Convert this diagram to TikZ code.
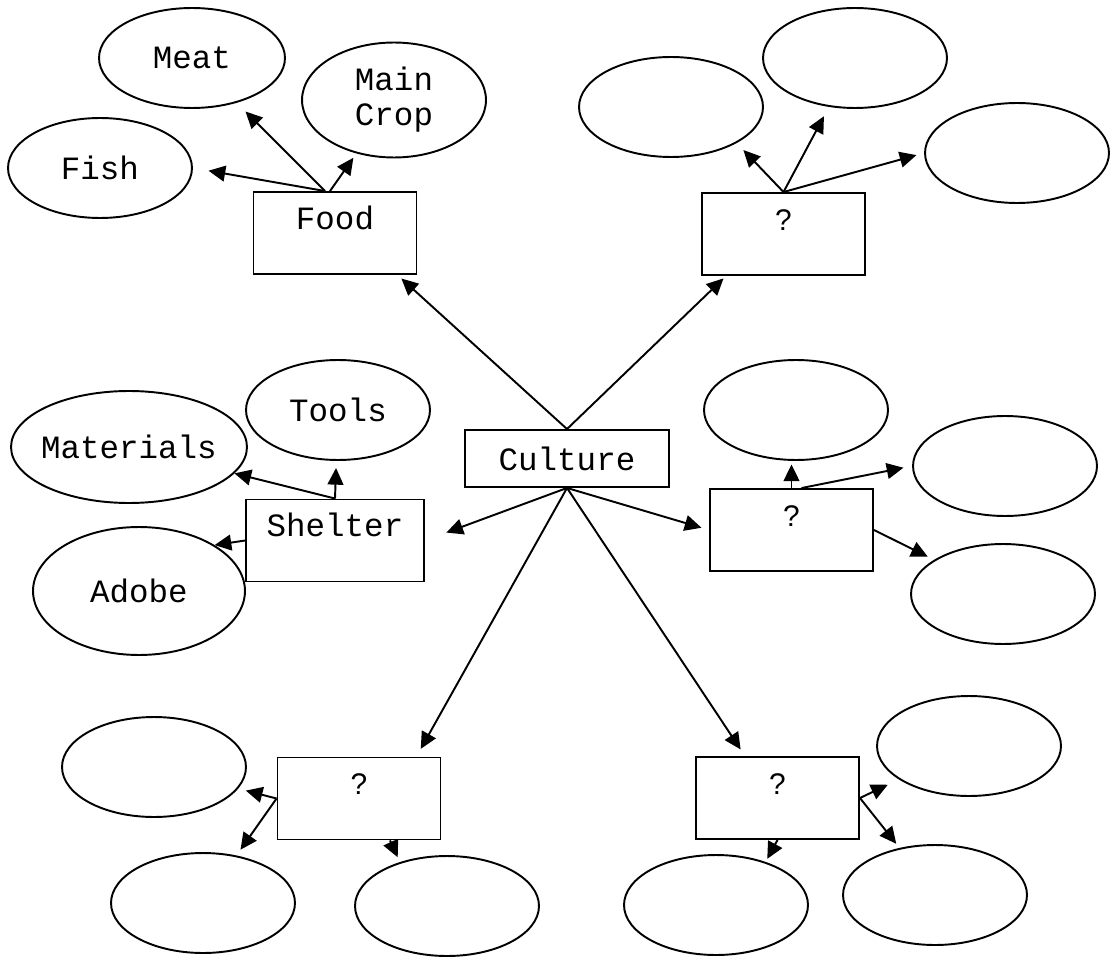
\documentclass[tikz,border=0pt]{standalone}
\usepackage{fontspec}
\setmonofont{Liberation Mono}
\newfontfamily\qmarkfont{Liberation Sans}
\usetikzlibrary{arrows.meta,shapes.geometric}

\newcommand{\qbox}{{\qmarkfont\fontsize{17}{18}\selectfont ?}}

\begin{document}
\begin{tikzpicture}
[x=0.02cm,y=-0.02cm,>={Triangle[length=9.5pt,width=9pt]},line width=1.1pt,
 font=\ttfamily\fontsize{18.5}{20}\selectfont,
 oval/.style={draw,ellipse,inner sep=0pt,minimum width=3.68cm,minimum height=2cm},
 topic/.style={draw,rectangle,inner sep=0pt,minimum width=3.26cm,
   text height=0.74cm,text depth=0.9cm},
 link/.style={->,shorten >=#1},link/.default=4pt]

	\useasboundingbox (0,0) rectangle (1111,959);

	% centre
	\node[draw,inner sep=0pt,minimum width=4.08cm,minimum height=1.14cm] (culture)
	at (567,458.5) {Culture};

	% food
	\node[topic] (food) at (335,233) {Food};
	\node[oval,minimum width=3.72cm] (meat) at (192,58) {Meat};
	\node[oval,minimum height=2.3cm,align=center] (crop) at (394,100) {Main\\Crop};
	\node[oval] (fish) at (100,168) {Fish};

	% top right
	\node[topic] (askA) at (783.5,234) {\qbox};
	\node[oval] (a1) at (671,107) {};
	\node[oval] (a2) at (855,58) {};
	\node[oval] (a3) at (1017,153) {};

	% shelter
	\node[topic,minimum width=3.56cm] (shelter) at (335,540.5) {Shelter};
	\node[oval,minimum width=4.72cm,minimum height=2.24cm,inner xsep=-3mm] (materials)
	at (129,447) {Materials};
	\node[oval] (tools) at (338,410) {Tools};
	\node[oval,minimum width=4.24cm,minimum height=2.56cm] (adobe) at (139,591) {Adobe};

	% middle right
	\node[topic] (askB) at (791.5,530) {\qbox};
	\node[oval] (b1) at (796,410) {};
	\node[oval] (b2) at (1005,466) {};
	\node[oval] (b3) at (1003,594) {};

	% bottom left
	\node[topic] (askC) at (359,798.5) {\qbox};
	\node[oval] (c1) at (154,767) {};
	\node[oval] (c2) at (203,903) {};
	\node[oval] (c3) at (447,906) {};

	% bottom right
	\node[topic] (askD) at (777.5,798) {\qbox};
	\node[oval] (d1) at (969,746) {};
	\node[oval] (d2) at (935,895) {};
	\node[oval] (d3) at (716,905) {};

	\draw[link=3pt] (culture.north) -- ([xshift=-0.4cm]food.south east);
	\draw[link=2pt] (culture.north) -- ([xshift=0.5cm]askA.south west);
	\draw[link=13pt] (culture.south) -- (shelter.east);
	\draw[link=4.5pt] (culture.south) -- (askB.west);
	\draw[link=5pt] (culture.south) -- ([xshift=-0.5cm]askC.north east);
	\draw[link=4.5pt] (culture.south) -- ([xshift=-0.65cm]askD.north);

	\draw[link=7pt] ([xshift=-0.2cm]food.north) -- (meat);
	\draw[link=9pt] ([xshift=-0.2cm]food.north) -- (fish.east);
	\draw[link=3pt] ([xshift=-0.1cm]food.north) -- (crop);

	\draw[link=5.5pt] (askA.north) -- (a1.south east);
	\draw[link=6pt] (askA.north) -- (a2);
	\draw[link=4.5pt] (askA.north) -- (a3.west);

	\draw[link] (shelter.north) -- (tools);
	\draw[link=0pt] (shelter.north) -- (materials);
	\draw[link=0pt] (shelter.west) -- (adobe.north east);

	\draw[link=2pt] (askB.north) -- (askB.north |- b1.south);
	\draw[link=5pt] ([xshift=0.2cm]askB.north) -- (b2.west);
	\draw[link] (askB.east) -- (b3);

	\draw[link=4.5pt] (askC.west) -- (c1);
	\draw[link] (askC.west) -- (c2);
	\draw[link=3pt] ([xshift=0.62cm]askC.south) -- (c3.137);

	\draw[link=7pt] (askD.east) -- (d1);
	\draw[link=3pt] (askD.east) -- (d2.127);
	\draw[link=2pt] (askD.south) -- (d3.41);
\end{tikzpicture}
\end{document}
